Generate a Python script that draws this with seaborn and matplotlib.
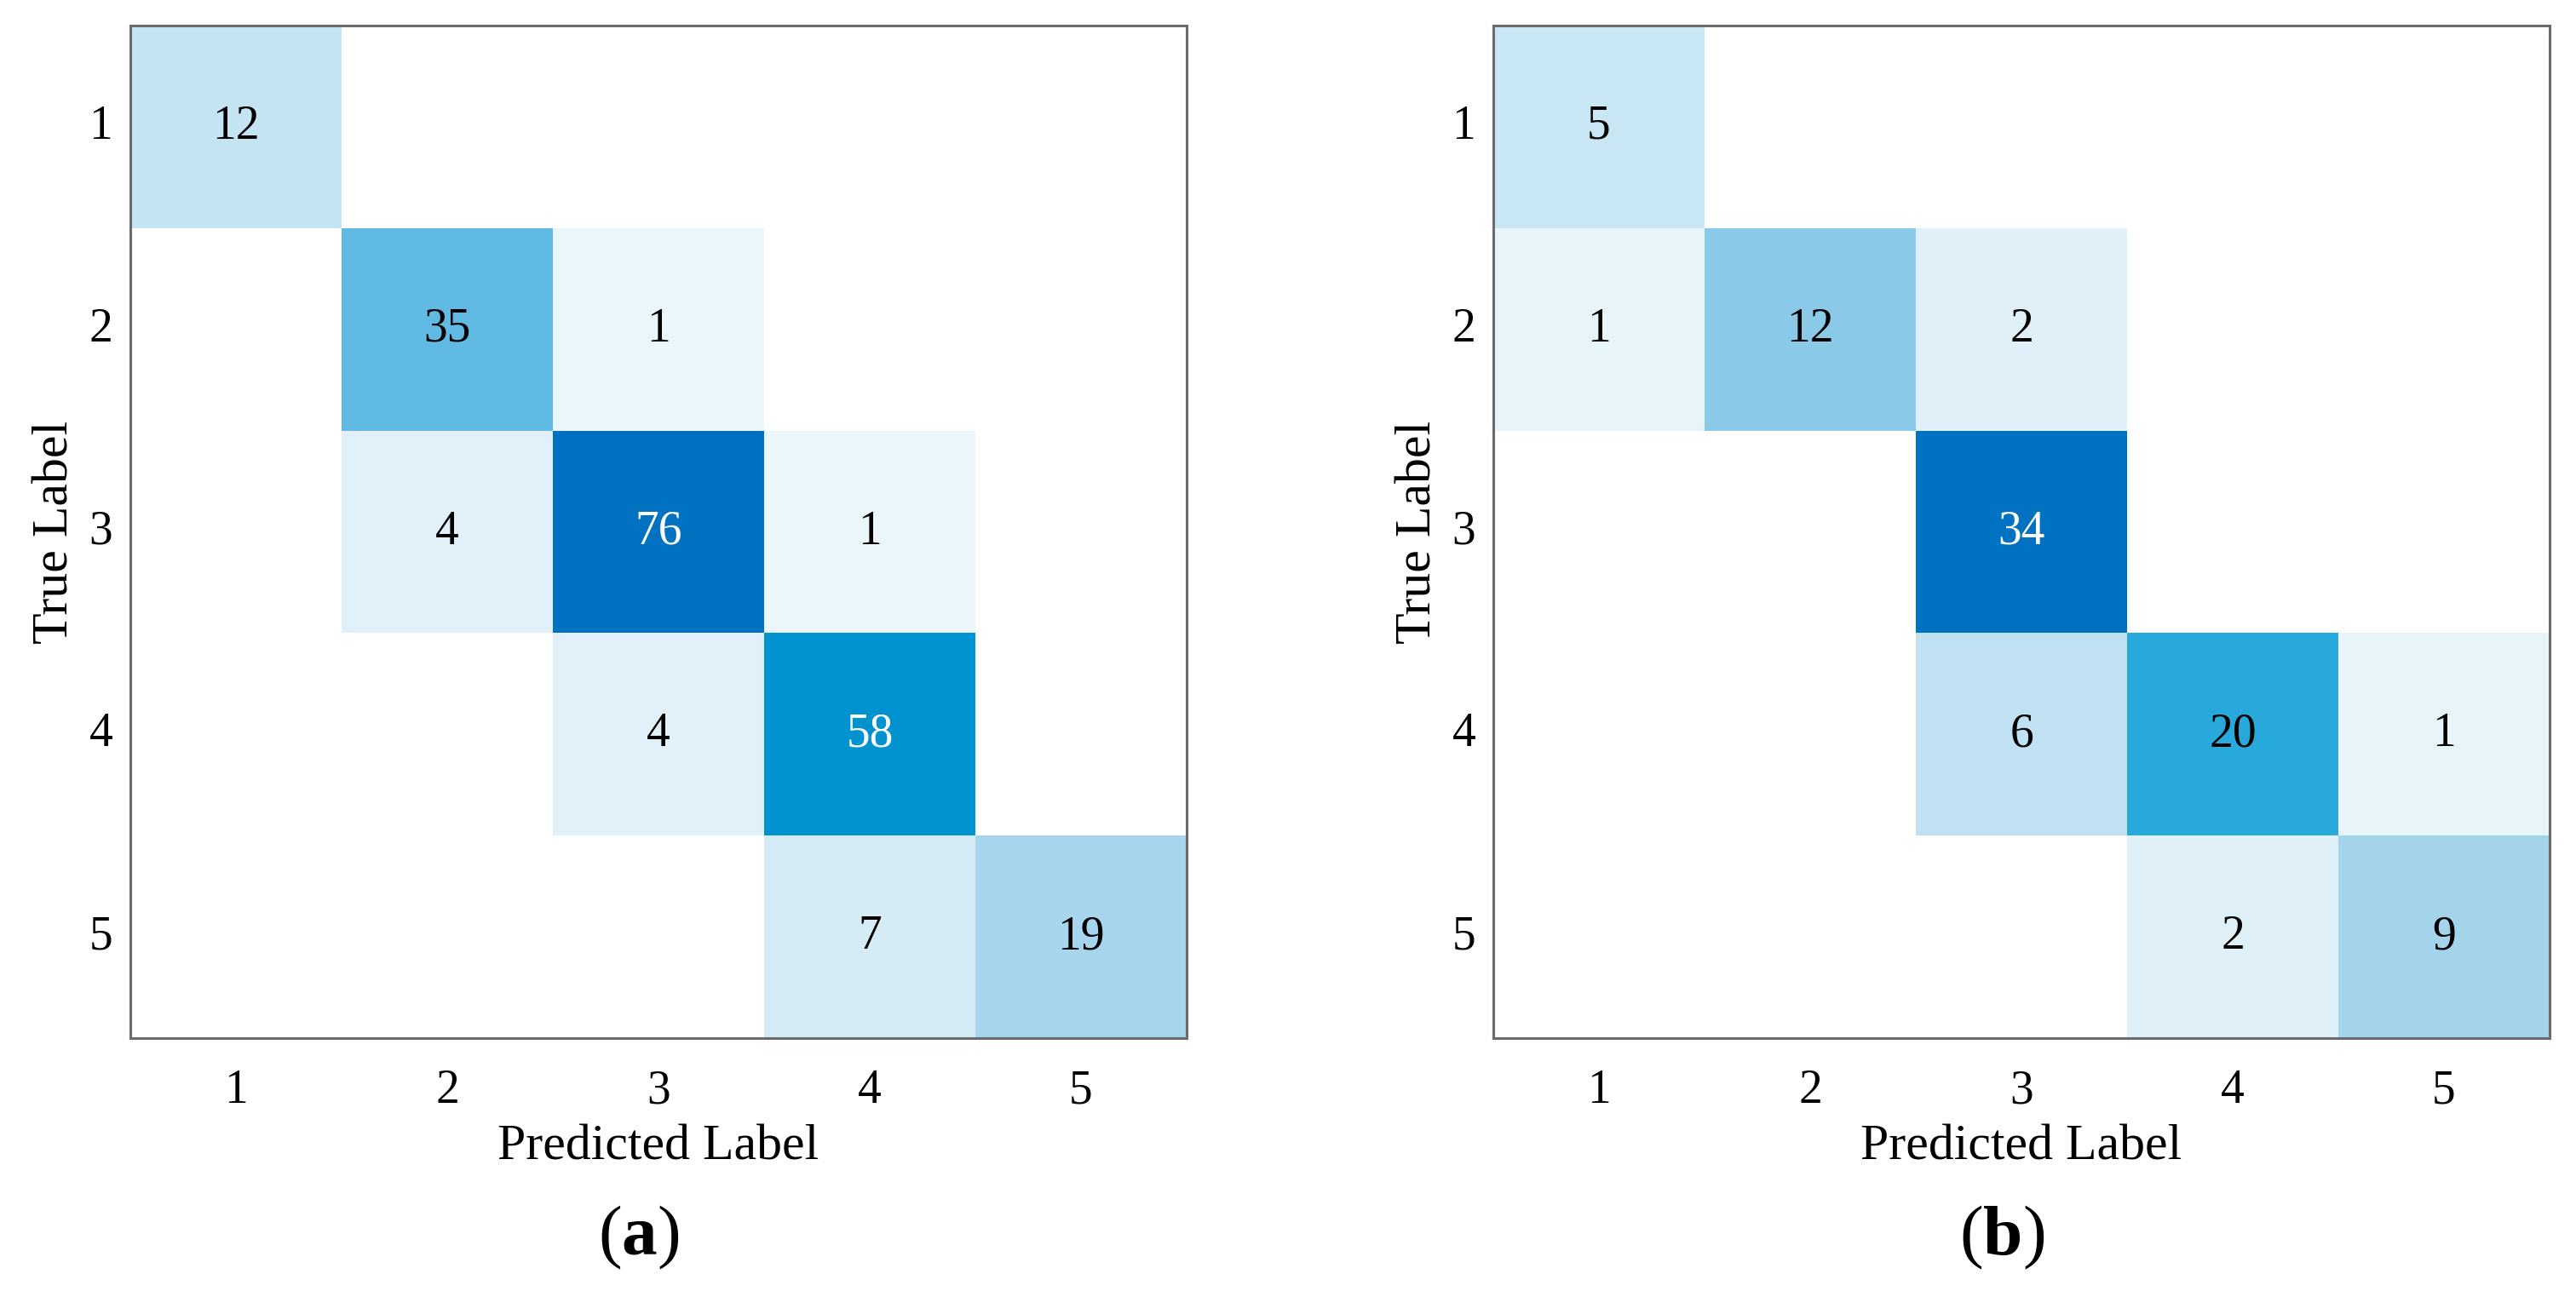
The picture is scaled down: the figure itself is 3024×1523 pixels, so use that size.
import numpy as np
import matplotlib
matplotlib.use("Agg")
import matplotlib.pyplot as plt
from matplotlib.colors import LinearSegmentedColormap
import seaborn as sns

### data: confusion matrices (rows = true, cols = predicted)
class_labels = ["1", "2", "3", "4", "5"]

cm_a = np.array([
    [12, 0, 0, 0, 0],
    [0, 35, 1, 0, 0],
    [0, 4, 76, 1, 0],
    [0, 0, 4, 58, 0],
    [0, 0, 0, 7, 19],
])

cm_b = np.array([
    [5, 0, 0, 0, 0],
    [1, 12, 2, 0, 0],
    [0, 0, 34, 0, 0],
    [0, 0, 6, 20, 1],
    [0, 0, 0, 2, 9],
])

panel_tags = ["a", "b"]

### style
sns.set_style("white")
plt.rcParams["font.family"] = ["Liberation Serif", "DejaVu Serif"]
plt.rcParams["text.color"] = "black"
plt.rcParams["axes.labelcolor"] = "black"
plt.rcParams["mathtext.fontset"] = "custom"
plt.rcParams["mathtext.rm"] = "Liberation Serif"
plt.rcParams["mathtext.bf"] = "Liberation Serif:bold"

### blue map (white-ish -> cyan -> deep blue), zero cells masked to white
blues = LinearSegmentedColormap.from_list("cm_blues", [
    (0.00, "#EEF7FC"),
    (0.05, "#E2F1F9"),
    (0.09, "#D5ECF7"),
    (0.16, "#C4E4F3"),
    (0.25, "#A7D5ED"),
    (0.35, "#8BCAE8"),
    (0.46, "#61BAE3"),
    (0.59, "#27A9DB"),
    (0.76, "#0094D0"),
    (1.00, "#0072C1"),
])

fig = plt.figure(figsize=(15.12, 7.615), dpi=200)

ax_pos = [
    [153 / 3024, 1 - 1219 / 1523, 1240 / 3024, 1189 / 1523],
    [1753 / 3024, 1 - 1219 / 1523, 1240 / 3024, 1189 / 1523],
]
tag_x = [750 / 3024, 2350 / 3024]

for cm, pos, tag, tx in zip([cm_a, cm_b], ax_pos, panel_tags, tag_x):
    ax = fig.add_axes(pos)
    vmax = cm.max()
    sns.heatmap(cm, ax=ax, mask=(cm == 0), cmap=blues, vmin=0, vmax=vmax,
                annot=True, fmt="d", cbar=False, linewidths=0,
                xticklabels=class_labels, yticklabels=class_labels,
                annot_kws={"fontsize": 20})

    ### text colour: white on the darkest cells only
    for t in ax.texts:
        v = float(t.get_text())
        t.set_color("white" if v / vmax > 0.7 else "black")

    for sp in ax.spines.values():
        sp.set_visible(True)
        sp.set_color("#6b6b6b")
        sp.set_linewidth(1.1)

    ax.tick_params(axis="both", length=0, labelsize=20, colors="black")
    ax.tick_params(axis="x", pad=13)
    ax.tick_params(axis="y", pad=7.5)
    plt.setp(ax.get_yticklabels(), rotation=0)

    ax.set_xlabel("Predicted Label", fontsize=21.5, va="center", color="black")
    ax.set_ylabel("True Label", fontsize=21.5, va="center", color="black")
    ax.xaxis.set_label_coords(0.5, -0.108)
    ax.yaxis.set_label_coords(-0.0706, 0.5)

    fig.text(tx, 0.046, "($\\mathbf{" + tag + "}$)", fontsize=30,
             ha="center", va="center", color="black")

fig.savefig("out.png", dpi=200, facecolor="white")
